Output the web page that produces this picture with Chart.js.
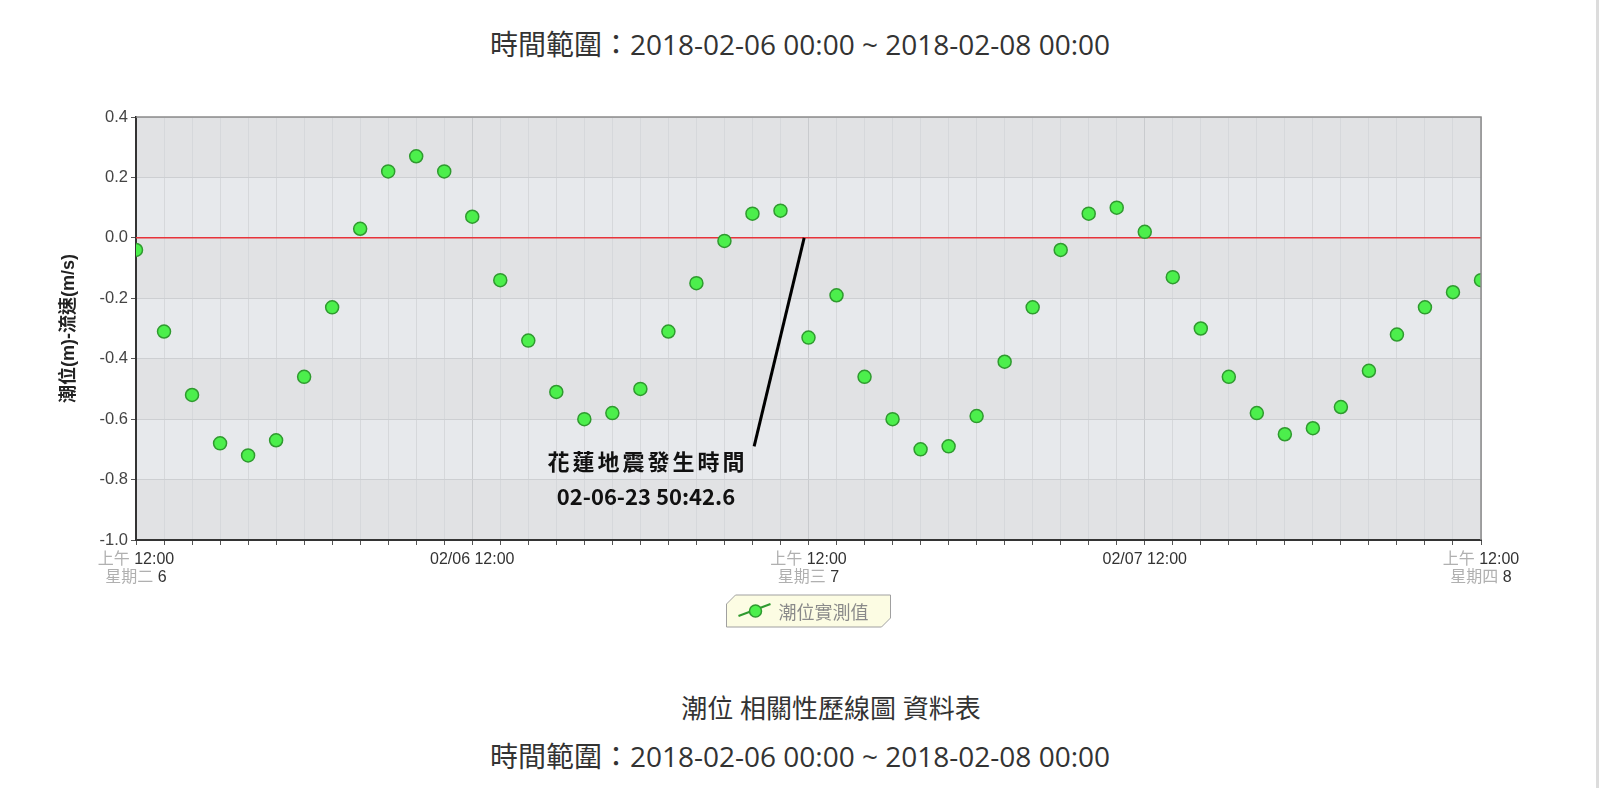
<!DOCTYPE html>
<html>
<head>
<meta charset="utf-8">
<script src="https://cdn.jsdelivr.net/npm/chart.js@4.4.1/dist/chart.umd.min.js"></script>
<style>
  html, body { margin: 0; padding: 0; background: #fff; width: 1600px; height: 788px; overflow: hidden; }
  .txt { position: absolute; white-space: pre; text-align: center; color: #333;
         font-family: "Open Sans", "Noto Sans CJK TC", sans-serif; }
  #wrap { position: absolute; left: 0; top: 0; width: 1600px; height: 650px; }
  .scroll { position: absolute; right: 1px; top: 0; width: 3px; height: 788px; background: #dcdcdc; }
</style>
</head>
<body>
<div class="txt" style="left:0;width:1600px;top:24px;font-size:28px;line-height:40px">時間範圍：2018-02-06 00:00 ~ 2018-02-08 00:00</div>
<div id="wrap"><canvas id="tideChart"></canvas></div>
<div class="txt" style="left:531px;width:600px;top:688px;font-size:26px;line-height:40px">潮位 相關性歷線圖 資料表</div>
<div class="txt" style="left:0;width:1600px;top:736px;font-size:28px;line-height:40px">時間範圍：2018-02-06 00:00 ~ 2018-02-08 00:00</div>
<div class="scroll"></div>
<script>
// hours since 2018-02-06 00:00, one reading per hour
var hours = [0, 1, 2, 3, 4, 5, 6, 7, 8, 9, 10, 11, 12, 13, 14, 15, 16, 17, 18, 19, 20, 21, 22, 23, 24,
    25, 26, 27, 28, 29, 30, 31, 32, 33, 34, 35, 36, 37, 38, 39, 40, 41, 42, 43, 44, 45, 46, 47, 48];
// 潮位實測值 (m)
var tideLevel = [-0.04, -0.31, -0.52, -0.68, -0.72, -0.67, -0.46, -0.23, 0.03, 0.22, 0.27, 0.22, 0.07,
    -0.14, -0.34, -0.51, -0.60, -0.58, -0.50, -0.31, -0.15, -0.01, 0.08, 0.09, -0.33,
    -0.19, -0.46, -0.60, -0.70, -0.69, -0.59, -0.41, -0.23, -0.04, 0.08, 0.10, 0.02,
    -0.13, -0.30, -0.46, -0.58, -0.65, -0.63, -0.56, -0.44, -0.32, -0.23, -0.18, -0.14];
var yTicks = [0.4, 0.2, 0.0, -0.2, -0.4, -0.6, -0.8, -1.0];

// x axis labels (light prefix + dark part, two rows)
var xLabelHours = [0, 12, 24, 36, 48];
var xLabelPre1 = ['上午 ', '', '上午 ', '', '上午 '];
var xLabelMain1 = ['12:00', '02/06 12:00', '12:00', '02/07 12:00', '12:00'];
var xLabelPre2 = ['星期二 ', '', '星期三 ', '', '星期四 '];
var xLabelMain2 = ['6', '', '7', '', '8'];

var quakeHour = 23 + 50 / 60 + 42.6 / 3600;
var quakeText = ['花蓮地震發生時間', '02-06-23 50:42.6'];
var legendText = '潮位實測值';

// alternating grey bands behind the plot
var bandPlugin = {
    id: 'bands',
    beforeDraw: function (chart) {
        var ctx = chart.ctx, a = chart.chartArea, y = chart.scales.y;
        ctx.save();
        for (var i = 0; i < yTicks.length - 1; i++) {
            var top = y.getPixelForValue(yTicks[i]);
            var bot = y.getPixelForValue(yTicks[i + 1]);
            ctx.fillStyle = i % 2 === 0 ? '#e1e2e4' : '#e7e9ec';
            ctx.fillRect(a.left, top, a.right - a.left, bot - top);
        }
        ctx.restore();
    }
};

// red zero line under the points
var zeroLinePlugin = {
    id: 'zeroLine',
    beforeDatasetsDraw: function (chart) {
        var ctx = chart.ctx, a = chart.chartArea, y = chart.scales.y.getPixelForValue(0);
        ctx.save();
        ctx.strokeStyle = '#e8333a';
        ctx.lineWidth = 1.5;
        ctx.beginPath();
        ctx.moveTo(a.left, y);
        ctx.lineTo(a.right, y);
        ctx.stroke();
        ctx.restore();
    }
};

// earthquake callout
var quakePlugin = {
    id: 'quake',
    afterDatasetsDraw: function (chart) {
        var ctx = chart.ctx, x = chart.scales.x, y = chart.scales.y;
        ctx.save();
        ctx.strokeStyle = '#000';
        ctx.lineWidth = 3;
        ctx.beginPath();
        ctx.moveTo(x.getPixelForValue(quakeHour), y.getPixelForValue(0));
        ctx.lineTo(x.getPixelForValue(22.06), y.getPixelForValue(-0.69));
        ctx.stroke();
        ctx.fillStyle = '#111';
        ctx.textAlign = 'center';
        ctx.textBaseline = 'middle';
        ctx.font = 'bold 22px "Noto Sans CJK TC", sans-serif';
        ctx.letterSpacing = '3px';
        ctx.fillText(quakeText[0], x.getPixelForValue(18.25), y.getPixelForValue(-0.74));
        ctx.letterSpacing = '0px';
        ctx.fillText(quakeText[1], x.getPixelForValue(18.2), y.getPixelForValue(-0.855));
        ctx.restore();
    }
};

// frame, x labels and legend
var framePlugin = {
    id: 'frame',
    afterDraw: function (chart) {
        var ctx = chart.ctx, a = chart.chartArea, x = chart.scales.x;
        ctx.save();
        ctx.strokeStyle = '#8c8c8c';
        ctx.lineWidth = 1.5;
        ctx.beginPath();
        ctx.moveTo(a.left, a.top);
        ctx.lineTo(a.right, a.top);
        ctx.lineTo(a.right, a.bottom);
        ctx.stroke();

        ctx.font = '16px "Liberation Sans", "Noto Sans CJK TC", sans-serif';
        ctx.textBaseline = 'middle';
        ctx.textAlign = 'left';
        xLabelHours.forEach(function (h, i) {
            var px = x.getPixelForValue(h);
            var rows = [[xLabelPre1[i], xLabelMain1[i], a.bottom + 20], [xLabelPre2[i], xLabelMain2[i], a.bottom + 38]];
            rows.forEach(function (r) {
                if (!r[0] && !r[1]) return;
                var sx = px - ctx.measureText(r[0] + r[1]).width / 2;
                ctx.fillStyle = '#b0b0b0';
                ctx.fillText(r[0], sx, r[2]);
                sx += ctx.measureText(r[0]).width;
                ctx.fillStyle = '#333';
                ctx.fillText(r[1], sx, r[2]);
            });
        });

        // legend box
        var cx = (a.left + a.right) / 2, cy = a.bottom + 71;
        var x0 = cx - 82, x1 = cx + 82, y0 = cy - 16, y1 = cy + 16, c = 9;
        ctx.beginPath();
        ctx.moveTo(x0 + c, y0);
        ctx.lineTo(x1, y0);
        ctx.lineTo(x1, y1 - c);
        ctx.lineTo(x1 - c, y1);
        ctx.lineTo(x0, y1);
        ctx.lineTo(x0, y0 + c);
        ctx.closePath();
        ctx.fillStyle = '#fcfce3';
        ctx.fill();
        ctx.strokeStyle = '#a0a0a0';
        ctx.lineWidth = 1;
        ctx.stroke();
        ctx.strokeStyle = '#2f9a2f';
        ctx.lineWidth = 2;
        ctx.beginPath();
        ctx.moveTo(x0 + 12, cy + 5);
        ctx.lineTo(x0 + 44, cy - 7);
        ctx.stroke();
        ctx.beginPath();
        ctx.arc(x0 + 29, cy, 6, 0, Math.PI * 2);
        ctx.fillStyle = '#4cef4c';
        ctx.fill();
        ctx.lineWidth = 1.5;
        ctx.stroke();
        ctx.font = '18px "Noto Sans CJK TC", sans-serif';
        ctx.fillStyle = '#8a8a8a';
        ctx.fillText(legendText, x0 + 52, cy + 1);
        ctx.restore();
    }
};

var tideChart = new Chart(document.getElementById('tideChart'), {
    type: 'line',
    data: {
        datasets: [{
            label: legendText,
            data: hours.map(function (h, i) { return { x: h, y: tideLevel[i] }; }),
            showLine: false,
            pointRadius: 6.5,
            pointHoverRadius: 6.5,
            pointBackgroundColor: '#4cef4c',
            pointBorderColor: '#2f9a2f',
            pointBorderWidth: 1.5
        }]
    },
    options: {
        responsive: true,
        maintainAspectRatio: false,
        devicePixelRatio: 1,
        animation: false,
        layout: { padding: { left: 0, top: 117, right: 119, bottom: 50 } },
        plugins: {
            legend: { display: false },
            tooltip: { enabled: false }
        },
        scales: {
            x: {
                type: 'linear',
                min: 0,
                max: 48,
                afterFit: function (s) { s.height = 60; },
                ticks: { stepSize: 1, autoSkip: false, maxRotation: 0, callback: function () { return ''; } },
                grid: {
                    color: function (c) { return c.tick && c.tick.value % 12 === 0 ? '#c9cbce' : '#d6d8db'; },
                    tickColor: '#555',
                    tickLength: 5
                },
                border: { color: '#333', width: 2 }
            },
            y: {
                min: -1.0,
                max: 0.4,
                afterFit: function (s) { s.width = 136; },
                ticks: {
                    stepSize: 0.2,
                    padding: 3,
                    color: '#444',
                    font: { family: '"Liberation Sans", sans-serif', size: 16.5 },
                    callback: function (v) { return Math.abs(v) < 1e-9 ? '0.0' : Number(v).toFixed(1); }
                },
                grid: { color: '#cdcfd2', tickColor: '#555', tickLength: 5 },
                border: { color: '#333', width: 2 },
                title: {
                    display: true,
                    text: '潮位(m)-流速(m/s)',
                    color: '#222',
                    font: { family: '"Liberation Sans", "Noto Sans CJK TC", sans-serif', size: 18, weight: 'bold' },
                    padding: { top: 58, bottom: 0 }
                }
            }
        }
    },
    plugins: [bandPlugin, zeroLinePlugin, quakePlugin, framePlugin]
});
</script>
</body>
</html>
